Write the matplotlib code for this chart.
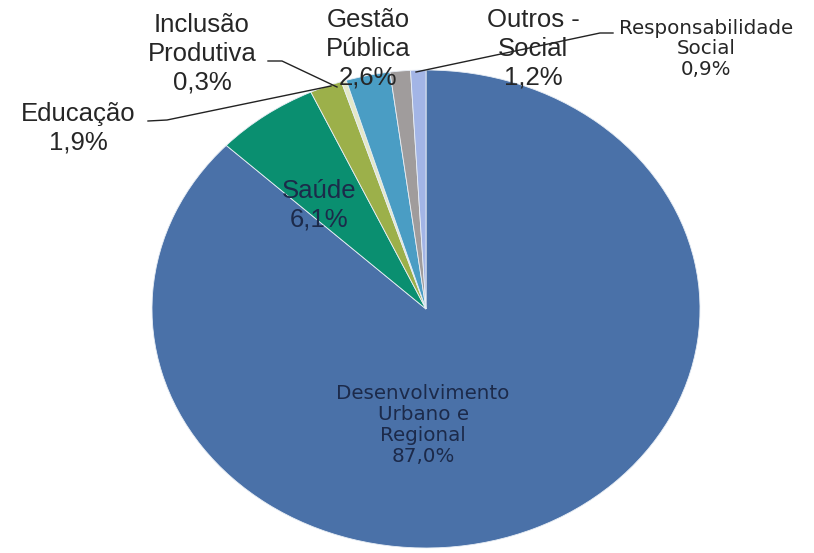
import matplotlib
matplotlib.use("Agg")
import matplotlib.pyplot as plt

categories = ["Desenvolvimento\nUrbano e\nRegional", "Saúde", "Educação",
              "Inclusão\nProdutiva", "Gestão\nPública", "Outros -\nSocial",
              "Responsabilidade\nSocial"]
values = [87.0, 6.1, 1.9, 0.3, 2.6, 1.2, 0.9]
pct_labels = ["87,0%", "6,1%", "1,9%", "0,3%", "2,6%", "1,2%", "0,9%"]
colors = ["#4A71A8", "#0A8F70", "#9CB04A", "#E4E8C8", "#4A9DC4", "#A09C9C", "#A3B5E6"]

W, H = 814, 553
fig = plt.figure(figsize=(W / 100, H / 100), dpi=100)
fig.patch.set_facecolor("white")

cx, cy, rx, ry = 426, 309, 274, 239
ax = fig.add_axes([(cx - rx) / W, 1 - (cy + ry) / H, 2 * rx / W, 2 * ry / H])
ax.pie(values, colors=colors, startangle=90, counterclock=False,
       wedgeprops=dict(edgecolor="#e8eef5", linewidth=0.6))
ax.set_aspect("auto")
ax.set_xlim(-1, 1)
ax.set_ylim(-1, 1)
ax.axis("off")

BIG = "Liberation Sans"
SMALL = "DejaVu Sans"

def ftext(x, y, s, size, family, color="#262626", ls=1.15):
    fig.text(x / W, 1 - y / H, s, ha="center", va="center", fontsize=size,
             color=color, family=family, linespacing=ls, zorder=5)

def lbl(i):
    return categories[i] + "\n" + pct_labels[i]

def leader(pts):
    xs = [p[0] / W for p in pts]
    ys = [1 - p[1] / H for p in pts]
    fig.add_artist(plt.Line2D(xs, ys, color="#222222", lw=1.0, zorder=4))

leader([(268, 61), (282, 61), (337, 87)])
leader([(148, 121), (167, 120), (331, 86)])
leader([(416, 72), (600, 33), (613, 33)])

ftext(423, 425, lbl(0), 14.3, SMALL, color="#1c2a4a", ls=1.12)
ftext(319, 205, lbl(1), 18.5, BIG, color="#1c2a4a", ls=1.22)
ftext(78, 128, lbl(2), 18.5, BIG, ls=1.22)
ftext(202, 54, lbl(3), 18.5, BIG, ls=1.25)
ftext(368, 49, lbl(4), 18.5, BIG, ls=1.25)
ftext(533, 49, lbl(5), 18.5, BIG, ls=1.25)
ftext(706, 49, lbl(6), 14.3, SMALL, ls=1.08)

fig.savefig("out.png", dpi=100, facecolor="white")
